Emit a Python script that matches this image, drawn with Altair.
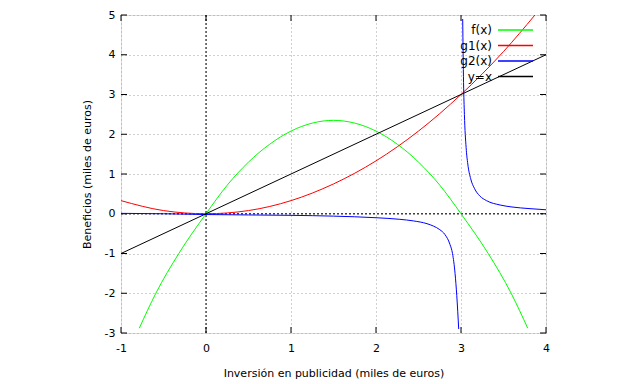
import altair as alt
import pandas as pd

# ---- data ----
f_x = [-0.785, -0.59, -0.32, 0.0, 0.25, 0.5, 0.75, 1.0, 1.25, 1.5, 1.75, 2.0, 2.25, 2.5, 2.75, 3.0, 3.32, 3.59, 3.785]
f_y = [-2.88, -2.0, -1.0, 0.0, 0.72, 1.3, 1.75, 2.08, 2.28, 2.35, 2.28, 2.08, 1.75, 1.3, 0.72, 0.0, -1.0, -2.0, -2.88]

g1_x = [-1.0, -0.5, 0.0, 0.5, 1.0, 1.5, 2.0, 2.5, 3.0, 3.5, 3.87]
g1_y = [0.33, 0.08, 0.0, 0.08, 0.33, 0.75, 1.33, 2.08, 3.0, 4.08, 5.0]

g2a_x = [-1.0, -0.5, 0.0, 0.5, 1.0, 1.5, 2.0, 2.28, 2.44, 2.6, 2.675, 2.75, 2.81, 2.87, 2.9, 2.93, 2.95, 2.973]
g2a_y = [0.01, 0.0, -0.02, -0.03, -0.04, -0.06, -0.1, -0.14, -0.18, -0.25, -0.31, -0.4, -0.52, -0.77, -1.0, -1.5, -2.05, -2.9]
g2b_x = [3.02, 3.03, 3.04, 3.06, 3.08, 3.114, 3.16, 3.22, 3.3, 3.46, 3.6, 3.8, 4.0]
g2b_y = [4.9, 3.3, 2.5, 1.67, 1.25, 0.88, 0.63, 0.45, 0.33, 0.22, 0.17, 0.13, 0.1]

id_x = [-1.0, 4.0]
id_y = [-1.0, 4.0]

series_names = ["f(x)", "g1(x)", "g2(x)", "y=x"]
series_colors = ["#00ff00", "#ff0000", "#0000ff", "#000000"]

x_ticks = [-1, 0, 1, 2, 3, 4]
y_ticks = [-3, -2, -1, 0, 1, 2, 3, 4, 5]

# ---- build table ----
rows = []
def add(name, seg, xs, ys):
    for i, (a, b) in enumerate(zip(xs, ys)):
        rows.append({"serie": name, "seg": seg, "x": a, "y": b, "ord": i})
add("f(x)", "f", f_x, f_y)
add("g1(x)", "g1", g1_x, g1_y)
add("g2(x)", "g2a", g2a_x, g2a_y)
add("g2(x)", "g2b", g2b_x, g2b_y)
add("y=x", "id", id_x, id_y)
df = pd.DataFrame(rows)

W, H = 425, 318
FONT = "DejaVu Sans"
FS = 11

xscale = alt.Scale(domain=[-1, 4], nice=False, zero=False)
yscale = alt.Scale(domain=[-3, 5], nice=False, zero=False)

x_axis = alt.Axis(values=x_ticks, labelExpr="'' + datum.value", title="Inversión en publicidad (miles de euros)",
                  grid=True, gridColor="#a0a0a0", gridDash=[1, 3], gridOpacity=1,
                  tickSize=0, domain=False, labelPadding=9, labelFont=FONT, labelFontSize=FS,
                  labelFlush=False, labelOverlap=False, labelBound=False,
                  labelColor="black", titleFont=FONT, titleFontSize=FS, titleFontWeight="normal",
                  titleColor="black", titleX=W / 2, titleY=40, titleBaseline="middle")
y_axis = alt.Axis(values=y_ticks, labelExpr="'' + datum.value", title="Beneficios (miles de euros)",
                  grid=True, gridColor="#a0a0a0", gridDash=[1, 3], gridOpacity=1,
                  tickSize=0, domain=False, labelPadding=6, labelFont=FONT, labelFontSize=FS,
                  labelFlush=False, labelOverlap=False, labelBound=False,
                  labelColor="black", titleFont=FONT, titleFontSize=FS, titleFontWeight="normal",
                  titleColor="black", titleX=-34, titleY=H / 2, titleAngle=-90,
                  titleAlign="center", titleBaseline="middle")

def X(field="x:Q"):
    return alt.X(field, scale=xscale, axis=x_axis)

def Y(field="y:Q"):
    return alt.Y(field, scale=yscale, axis=y_axis)

zero_h = alt.Chart(pd.DataFrame({"y": [0.0]})).mark_rule(strokeDash=[2, 2], strokeWidth=1).encode(
    y=Y(), x=alt.value(0), x2=alt.value(W), color=alt.value("black"))
zero_v = alt.Chart(pd.DataFrame({"x": [0.0]})).mark_rule(strokeDash=[2, 2], strokeWidth=1).encode(
    x=X(), y=alt.value(0), y2=alt.value(H), color=alt.value("black"))

xt = pd.DataFrame({"x": x_ticks})
yt = pd.DataFrame({"y": y_ticks})
TL = 6
ticks = [
    alt.Chart(xt).mark_rule().encode(x=X(), y=alt.value(H), y2=alt.value(H - TL), color=alt.value("black")),
    alt.Chart(xt).mark_rule().encode(x=X(), y=alt.value(0), y2=alt.value(TL), color=alt.value("black")),
    alt.Chart(yt).mark_rule().encode(y=Y(), x=alt.value(0), x2=alt.value(TL), color=alt.value("black")),
    alt.Chart(yt).mark_rule().encode(y=Y(), x=alt.value(W), x2=alt.value(W - TL), color=alt.value("black")),
]

lines = alt.Chart(df).mark_line(strokeWidth=1, interpolate="monotone", clip=True).encode(
    x=X(),
    y=Y(),
    color=alt.Color("serie:N", scale=alt.Scale(domain=series_names, range=series_colors), legend=None),
    detail="seg:N",
    order="ord:Q",
)

legend_layers = []
for i, (name, col) in enumerate(zip(series_names, series_colors)):
    yy = 15 + 15.5 * i
    legend_layers.append(
        alt.Chart(pd.DataFrame({"t": [name]})).mark_text(align="right", baseline="middle", font=FONT,
                                                       fontSize=FS + 1).encode(
            text="t:N", x=alt.value(371), y=alt.value(yy), color=alt.value("black")))
    legend_layers.append(
        alt.Chart(pd.DataFrame({"k": [name + "_line"]})).mark_rule(strokeWidth=1.5).encode(
            x=alt.value(377), x2=alt.value(412), y=alt.value(yy), color=alt.value(col)))

chart = alt.layer(zero_h, zero_v, *ticks, lines, *legend_layers).properties(
    width=W, height=H,
    autosize=alt.AutoSizeParams(type="none"),
    padding={"left": 113, "top": 7, "right": 86, "bottom": 51},
).configure_view(stroke="black", strokeWidth=1).configure(background="white")

chart.save("out.html", embed_options={"renderer": "svg", "actions": False})
